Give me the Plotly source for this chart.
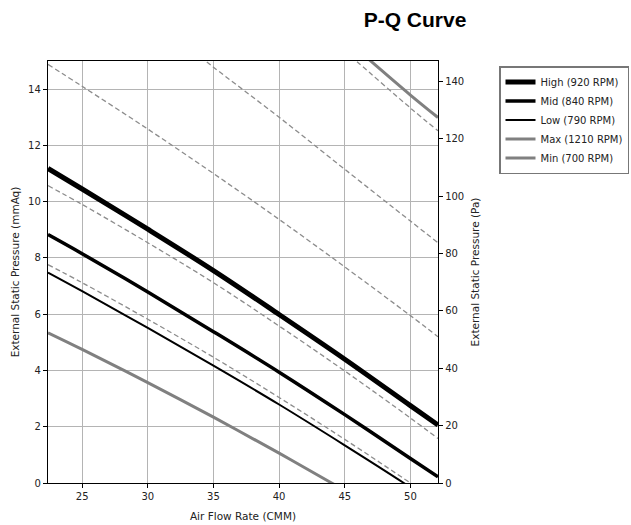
import plotly.graph_objects as go

# ---- data ----
MMAQ_TO_PA = 9.80665

high_x = [22.4, 25, 30, 35, 40, 45, 50, 52.1]
high_y = [11.18, 10.45, 9.02, 7.55, 5.99, 4.40, 2.75, 2.06]

mid_x = [22.4, 25, 30, 35, 40, 45, 50, 52.1]
mid_y = [8.83, 8.15, 6.79, 5.38, 3.94, 2.43, 0.87, 0.22]

low_x = [22.4, 25, 30, 35, 40, 45, 49.5, 51]
low_y = [7.48, 6.82, 5.51, 4.17, 2.79, 1.34, 0.0, -0.47]

max_x = [46, 47.1, 50, 52.1]
max_y = [15.4, 14.95, 13.79, 12.99]

min_x = [22.4, 25, 30, 35, 40, 44, 45.5]
min_y = [5.34, 4.75, 3.57, 2.34, 1.06, 0.0, -0.40]

ref1_x = [22.4, 25, 30, 35, 40, 45, 50, 52.1]
ref1_y = [14.88, 14.10, 12.58, 11.00, 9.37, 7.68, 5.95, 5.20]
ref2_x = [34, 35, 40, 45, 50, 52.1]
ref2_y = [15.15, 14.78, 13.0, 11.15, 9.31, 8.54]
ref3_x = [45, 46, 50, 52.1]
ref3_y = [15.35, 14.95, 13.33, 12.52]
ref4_x = [22.4, 25, 30, 35, 40, 45, 50, 52.1]
ref4_y = [10.57, 9.90, 8.54, 7.12, 5.58, 3.98, 2.31, 1.58]
ref5_x = [22.4, 25, 30, 35, 40, 45, 50, 51]
ref5_y = [7.76, 7.12, 5.82, 4.47, 3.04, 1.55, 0.0, -0.32]

x_ticks = [25, 30, 35, 40, 45, 50]
y_ticks = [0, 2, 4, 6, 8, 10, 12, 14]
pa_ticks = [0, 20, 40, 60, 80, 100, 120, 140]

ref_series = [(ref1_x, ref1_y), (ref2_x, ref2_y), (ref3_x, ref3_y), (ref4_x, ref4_y), (ref5_x, ref5_y)]

solid = [
    ("High (920 RPM)", high_x, high_y, "black", 5),
    ("Mid (840 RPM)", mid_x, mid_y, "black", 3.5),
    ("Low (790 RPM)", low_x, low_y, "black", 2),
    ("Max (1210 RPM)", max_x, max_y, "#808080", 3),
    ("Min (700 RPM)", min_x, min_y, "#808080", 3),
]

fig = go.Figure()

for xs, ys in ref_series:
    fig.add_trace(go.Scatter(
        x=xs, y=ys, mode="lines", showlegend=False, hoverinfo="skip",
        line=dict(color="#8c8c8c", width=1.3, dash="5px,3px", shape="spline", smoothing=1),
    ))

for name, xs, ys, col, w in solid:
    fig.add_trace(go.Scatter(
        x=xs, y=ys, mode="lines", name=name,
        line=dict(color=col, width=w, shape="spline", smoothing=1),
    ))

# invisible trace binding the Pa axis to the same data scale
fig.add_trace(go.Scatter(
    x=high_x, y=[v * MMAQ_TO_PA for v in high_y], yaxis="y2", mode="lines",
    line=dict(width=0), showlegend=False, hoverinfo="skip", opacity=0,
))

font_family = "DejaVu Sans"

fig.update_layout(
    width=631, height=525,
    margin=dict(l=48, r=193, t=61, b=42, autoexpand=False),
    plot_bgcolor="white", paper_bgcolor="white",
    font=dict(family=font_family, size=10, color="#222"),
    title=dict(
        text="P-Q Curve", x=415 / 631, xref="container", xanchor="center",
        y=1 - 20 / 525, yref="container", yanchor="middle",
        font=dict(family="Liberation Sans", size=21, color="black", weight="bold"),
    ),
    xaxis=dict(
        range=[22.4, 52.1], tickvals=x_ticks, showgrid=True, gridcolor="#b4b4b4", gridwidth=1,
        showline=True, linecolor="black", linewidth=1.3, mirror=True, automargin=False,
        ticks="outside", ticklen=4, tickcolor="black", zeroline=False,
        title=dict(text="Air Flow Rate (CMM)", font=dict(size=10.5), standoff=11),
        tickfont=dict(size=10),
    ),
    yaxis=dict(
        range=[0, 15], tickvals=y_ticks, showgrid=True, gridcolor="#b4b4b4", gridwidth=1,
        showline=True, linecolor="black", linewidth=1.3, mirror=True, automargin=False,
        ticks="outside", ticklen=4, tickcolor="black", zeroline=False,
        title=dict(text="External Static Pressure (mmAq)", font=dict(size=10.5), standoff=6),
        tickfont=dict(size=10),
    ),
    yaxis2=dict(
        range=[0, 15 * MMAQ_TO_PA], tickvals=pa_ticks, overlaying="y", side="right", anchor="x",
        showgrid=False, showline=True, linecolor="black", linewidth=1.3, automargin=False,
        ticks="outside", ticklen=4, tickcolor="black", zeroline=False,
        title=dict(text="External Static Pressure (Pa)", font=dict(size=10.5), standoff=8),
        tickfont=dict(size=10),
    ),
    legend=dict(
        x=499 / 631, y=1 - 66 / 525, xref="container", yref="container",
        xanchor="left", yanchor="top",
        bordercolor="#777", borderwidth=1.5, bgcolor="white",
        font=dict(family=font_family, size=10, color="#222"),
        tracegroupgap=0,
    ),
    showlegend=True,
)

fig.write_html("out.html", config={"displayModeBar": False},
               post_script="document.body.style.margin='0';")
